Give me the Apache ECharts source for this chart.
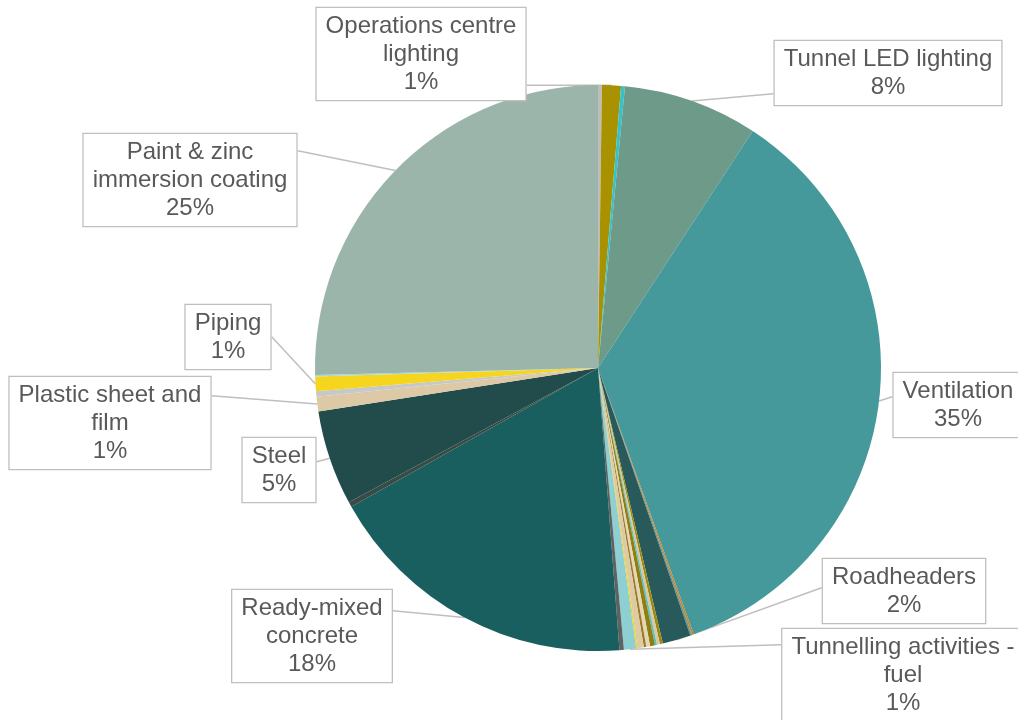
<!DOCTYPE html>
<html>
<head>
<meta charset="utf-8">
<title>Embodied carbon breakdown</title>
<script src="https://cdn.jsdelivr.net/npm/echarts@6/dist/echarts.min.js"></script>
<style>
  html, body { margin: 0; padding: 0; background: #ffffff; }
  #chart { width: 1018px; height: 720px; }
</style>
</head>
<body>
<div id="chart"></div>
<script>
// Contributors, listed clockwise from 12 o'clock
const categories = [
  'Lighting controls',
  'Operations centre\nlighting',
  'Emergency lighting',
  'Tunnel LED lighting',
  'Ventilation',
  'Jet fan supports',
  'Fire suppression',
  'Roadheaders',
  'Drilling equipment',
  'Aggregate',
  'Water use',
  'Cabling',
  'Sand',
  'Explosives',
  'Cement',
  'Signage',
  'Tunnelling activities -\nfuel',
  'Transport',
  'Ready-mixed\nconcrete',
  'Rock bolts',
  'Steel',
  'Plastic sheet and\nfilm',
  'Geotextile',
  'Piping',
  'Sealants',
  'Paint & zinc\nimmersion coating'
];

// Share of total (%)
const shares = [
  0.22, 1.08, 0.22, 7.69, 35.3, 0.10, 0.10, 1.61, 0.17, 0.17, 0.11, 0.28, 0.22,
  0.14, 0.36, 0.08, 0.69, 0.25, 18.06, 0.28, 5.42, 0.83, 0.31, 0.83, 0.08, 25.4
];

const sliceColors = [
  '#BDBDBD', '#A89200', '#36C2C9', '#6D9A89', '#45999A', '#C4852B', '#6E958C',
  '#285A5B', '#9C8A10', '#D9C9A0', '#5BC0C6', '#8E7F12', '#E6D7B2', '#9B7A2A',
  '#DDCBA5', '#F2D21F', '#8ECFD1', '#5E6262', '#1A5F5F', '#394B45', '#224B4C',
  '#DDC9A5', '#C8C8C8', '#F6D51E', '#A8D7D5', '#9BB5AB'
];

// Callout boxes: centre x, centre y, and where the leader meets the box side
// (offset from the box top; null = nearest point of the box)
const calloutAt = {
  'Operations centre\nlighting': [421, 54, null],
  'Tunnel LED lighting': [888, 73, 54],
  'Ventilation': [958, 405, 25],
  'Roadheaders': [904, 591, 30],
  'Tunnelling activities -\nfuel': [903, 675, 17],
  'Ready-mixed\nconcrete': [312, 636, 22],
  'Steel': [279, 470, 25],
  'Plastic sheet and\nfilm': [110, 423, 20],
  'Piping': [228, 337, 33],
  'Paint & zinc\nimmersion coating': [190, 180, 18]
};

const pieData = categories.map((name, i) => {
  const shown = calloutAt[name] !== undefined;
  return {
    name: name,
    value: shares[i],
    itemStyle: { color: sliceColors[i] },
    label: { show: shown },
    labelLine: { show: shown }
  };
});

const chart = echarts.init(document.getElementById('chart'), null, { renderer: 'canvas' });

chart.setOption({
  animation: false,
  backgroundColor: '#ffffff',
  series: [{
    type: 'pie',
    center: [598, 368],
    radius: 283,
    startAngle: 90,
    clockwise: true,
    avoidLabelOverlap: false,
    itemStyle: { borderWidth: 0 },
    emphasis: { disabled: true },
    data: pieData,
    label: {
      position: 'outside',
      formatter: p => p.name + '\n' + Math.round(p.percent) + '%',
      fontFamily: 'Liberation Sans, Arial, sans-serif',
      fontSize: 24,
      lineHeight: 28,
      color: '#595959',
      align: 'center',
      backgroundColor: '#ffffff',
      borderColor: '#BFBFBF',
      borderWidth: 1.3,
      padding: [4, 9]
    },
    labelLine: {
      length: 20,
      length2: 20,
      lineStyle: { color: '#BFBFBF', width: 1.5 }
    },
    // Place each callout box and run a straight leader from the slice's
    // mid-angle point on the rim to the facing side of the box.
    labelLayout: function (params) {
      const pos = calloutAt[categories[params.dataIndex]];
      if (!pos) return {};
      const w = params.labelRect.width;
      const h = params.labelRect.height;
      const left = pos[0] - w / 2, right = pos[0] + w / 2;
      const top = pos[1] - h / 2, bottom = pos[1] + h / 2;
      const rim = params.labelLinePoints[0];
      let ex, ey;
      if (pos[2] === null) {
        ex = Math.min(Math.max(rim[0], left), right);
        ey = Math.min(Math.max(rim[1], top), bottom);
      } else {
        ex = rim[0] < left ? left : right;
        ey = top + pos[2];
      }
      return {
        x: pos[0],
        y: pos[1],
        align: 'center',
        verticalAlign: 'middle',
        labelLinePoints: [rim, [ex, ey], [ex, ey]]
      };
    }
  }]
});
</script>
</body>
</html>
